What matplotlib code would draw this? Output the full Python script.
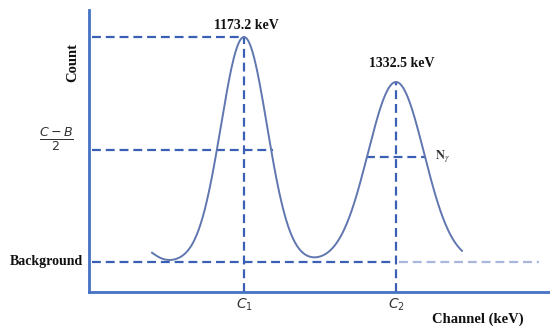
import numpy as np
import matplotlib
matplotlib.use("Agg")
import matplotlib.pyplot as plt

# ---- data (schematic gamma spectrum, arbitrary units) ----
peak_labels = ["1173.2 keV", "1332.5 keV"]
peak_centers = [155, 307]      # channel
peak_heights = [225, 180]      # counts above background
peak_sigmas = [23, 28]
background = 30
n_gamma_level = 135            # counts of the N_gamma marker on peak 2
tail_center = 52
tail_height = 14
tail_sigma = 12
curve_start, curve_end = 63, 373
half_label = r"$\frac{C-B}{2}$"

C_AXIS = "#4472c4"
C_DASH = "#3b5fb5"
C_CURVE = "#6076b0"
C_PALE = "#a9b6dd"

fig = plt.figure(figsize=(5.5, 3.29), dpi=100)
ax = fig.add_axes([89 / 550, 37 / 329, 461 / 550, 282 / 329])
ax.set_xlim(0, 461)
ax.set_ylim(0, 282)

x = np.linspace(curve_start, curve_end, 600)
y = np.full_like(x, float(background))
for c, h, s in zip(peak_centers, peak_heights, peak_sigmas):
    y += h * np.exp(-0.5 * ((x - c) / s) ** 2)
y += tail_height * np.exp(-0.5 * ((x - tail_center) / tail_sigma) ** 2)
ax.plot(x, y, color=C_CURVE, lw=1.4, zorder=3)

dash = dict(lw=1.6, dashes=(4, 2.2), zorder=2)
c1, c2 = peak_centers
top1 = background + peak_heights[0]
top2 = background + peak_heights[1]
half1 = background + peak_heights[0] / 2

# background line
ax.plot([3, c2], [background, background], color=C_DASH, **dash)
ax.plot([c2 + 3, 450], [background, background], color=C_PALE, **dash)
# peak 1 markers
ax.plot([3, c1], [top1, top1], color=C_DASH, **dash)
ax.plot([c1, c1], [0, top1], color=C_DASH, **dash)
w1 = peak_sigmas[0] * np.sqrt(2 * np.log(2))
ax.plot([3, c1 + w1 + 2], [half1, half1], color=C_DASH, **dash)
# peak 2 markers
ax.plot([c2, c2], [0, top2], color=C_DASH, **dash)
r2 = (n_gamma_level - background) / peak_heights[1]
w2 = peak_sigmas[1] * np.sqrt(-2 * np.log(r2))
ax.plot([c2 - w2 - 1, c2 + w2 + 1], [n_gamma_level, n_gamma_level], color=C_DASH, **dash)

for s in ["top", "right"]:
    ax.spines[s].set_visible(False)
for s in ["left", "bottom"]:
    ax.spines[s].set_color(C_AXIS)
    ax.spines[s].set_linewidth(2)

ax.set_xticks([c1, c2])
ax.set_xticklabels([r"$C_1$", r"$C_2$"], fontsize=10, color="#333333")
ax.tick_params(axis="x", length=0, pad=3)
ax.set_yticks([])

serif = dict(family="Liberation Serif", weight="bold", color="#111111")
ax.text(c1 + 2, top1 + 5, peak_labels[0], ha="center", va="bottom", fontsize=10, **serif)
ax.text(c2 + 6, top2 + 12, peak_labels[1], ha="center", va="bottom", fontsize=10, **serif)
ax.text(c2 + w2 + 10, n_gamma_level, r"$\mathbf{N}_{\gamma}$", ha="left", va="center",
        fontsize=9, color="#333333", math_fontfamily="stix")
fig.text(73 / 550, 1 - 63 / 329, "Count", rotation=90, ha="center", va="center",
         fontsize=10.5, **serif)
fig.text(83 / 550, 1 - 261 / 329, "Background", ha="right", va="center", fontsize=10, **serif)
fig.text(478 / 550, 1 - 319 / 329, "Channel (keV)", ha="center", va="center", fontsize=10.5, **serif)
fig.text(56 / 550, 1 - 139 / 329, half_label, ha="center", va="center", fontsize=13, color="#333333")

fig.savefig("out.png", dpi=100)
